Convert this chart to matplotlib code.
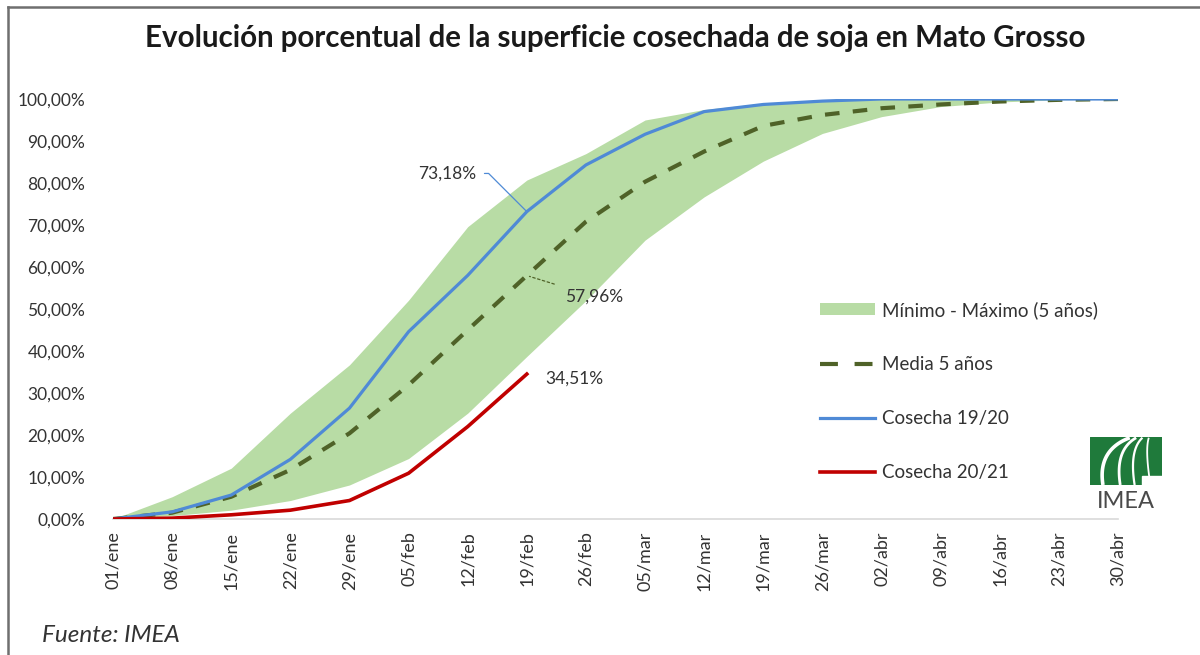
import matplotlib
matplotlib.use("Agg")
import matplotlib.pyplot as plt
from matplotlib.lines import Line2D
from matplotlib.patches import Patch, Rectangle
from matplotlib.ticker import FuncFormatter, MultipleLocator
import numpy as np

plt.rcParams['font.family'] = ['Lato', 'DejaVu Sans']

# semanas de cosecha
fechas = ["01/ene", "08/ene", "15/ene", "22/ene", "29/ene", "05/feb", "12/feb", "19/feb",
          "26/feb", "05/mar", "12/mar", "19/mar", "26/mar", "02/abr", "09/abr", "16/abr",
          "23/abr", "30/abr"]

# % superficie cosechada
maximo_5a = [0, 5.3, 12.1, 25.2, 36.7, 52.1, 69.6, 80.7, 87.0, 95.0, 97.5, 99.0, 99.8,
             100, 100, 100, 100, 100]
minimo_5a = [0, 0.8, 2.1, 4.4, 8.1, 14.4, 25.2, 38.7, 52.0, 66.4, 76.7, 85.2, 91.8,
             95.8, 98.2, 99.3, 99.8, 100]
media_5a = [0, 1.5, 5.3, 11.7, 20.4, 31.9, 45.0, 57.96, 70.8, 80.3, 87.5, 93.6, 96.2,
            97.8, 98.7, 99.4, 99.8, 100]
cosecha_1920 = [0, 1.7, 5.7, 14.2, 26.4, 44.6, 58.0, 73.18, 84.3, 91.6, 97.0, 98.7, 99.5,
                100, 100, 100, 100, 100]
cosecha_2021 = [0, 0.2, 1.0, 2.1, 4.4, 10.9, 22.0, 34.51]

verde_claro = "#B8DCA5"
oliva = "#4F6228"
azul = "#4F8AD6"
rojo = "#C00000"
gris_txt = "#333333"

W, H = 1200, 655
fig = plt.figure(figsize=(W / 100, H / 100), dpi=100)
ax = fig.add_axes([113 / W, (H - 519) / H, (1118 - 113) / W, (519 - 99) / H])

x = np.arange(len(fechas))
x21 = np.arange(len(cosecha_2021))

ax.fill_between(x, np.array(minimo_5a) / 100, np.array(maximo_5a) / 100,
                color=verde_claro, linewidth=0, zorder=1)
ax.plot(x, np.array(media_5a) / 100, color=oliva, lw=3, dashes=(3.5, 3.2), zorder=3)
ax.plot(x, np.array(cosecha_1920) / 100, color=azul, lw=2.3, zorder=4)
ax.plot(x21, np.array(cosecha_2021) / 100, color=rojo, lw=2.6, zorder=5)

ax.set_xlim(0, len(fechas) - 1)
ax.set_ylim(0, 1.0)
ax.yaxis.set_major_locator(MultipleLocator(0.1))
ax.yaxis.set_major_formatter(FuncFormatter(lambda v, p: f"{v * 100:.2f}%".replace(".", ",")))
ax.set_xticks(x)
ax.set_xticklabels(fechas, rotation=90, fontsize=13, color=gris_txt)
ax.tick_params(axis='y', labelsize=12.5, labelcolor=gris_txt, length=0, pad=20)
ax.tick_params(axis='x', length=0, pad=9)
for s in ['top', 'right', 'left']:
    ax.spines[s].set_visible(False)
ax.spines['bottom'].set_color("#D9D9D9")
ax.spines['bottom'].set_linewidth(1.2)

# etiquetas de datos
i = 7
ax.annotate(f"{cosecha_1920[i]:.2f}%".replace(".", ","), xy=(i, cosecha_1920[i] / 100),
            xytext=(-36.5, 27.5), textcoords='offset points', ha='right', va='center',
            fontsize=12.5, color=gris_txt,
            arrowprops=dict(arrowstyle='-', color=azul, lw=0.9, shrinkA=4, shrinkB=0,
                            connectionstyle='angle,angleA=0,angleB=-45,rad=0'))
ax.annotate(f"{media_5a[i]:.2f}%".replace(".", ","), xy=(i, media_5a[i] / 100),
            xytext=(27.5, -15), textcoords='offset points', ha='left', va='center',
            fontsize=12.5, color=gris_txt,
            arrowprops=dict(arrowstyle='-', color=oliva, lw=0.9, ls=(0, (2, 2)),
                            shrinkA=6, shrinkB=2))
ax.annotate(f"{cosecha_2021[-1]:.2f}%".replace(".", ","), xy=(x21[-1], cosecha_2021[-1] / 100),
            xytext=(13, -3), textcoords='offset points', ha='left', va='center',
            fontsize=12.5, color=gris_txt)

# leyenda
handles = [Patch(facecolor=verde_claro, edgecolor='none'),
           Line2D([], [], color=oliva, lw=3, dashes=(4.3, 4.0)),
           Line2D([], [], color=azul, lw=2.3),
           Line2D([], [], color=rojo, lw=2.6)]
labels = ["Mínimo - Máximo (5 años)", "Media 5 años", "Cosecha 19/20", "Cosecha 20/21"]
leg = fig.legend(handles, labels, loc='upper left', bbox_to_anchor=(803 / W, 1 - 284 / H),
                 frameon=False, fontsize=13.5, handlelength=2.95, handletextpad=0.35,
                 labelspacing=1.98, handleheight=0.6)
for t in leg.get_texts():
    t.set_color(gris_txt)

# titulo y fuente
titulo = fig.text(615 / W, 1 - 38 / H,
                  "Evolución porcentual de la superficie cosechada de soja en Mato Grosso",
                  ha='center', va='center', fontsize=20, fontweight='bold', color='#1a1a1a')
r = fig.canvas.get_renderer()
ancho = titulo.get_window_extent(renderer=r).width
titulo.set_fontsize(20 * 945 / ancho)

fig.text(42 / W, 1 - 636 / H, "Fuente: IMEA", ha='left', va='center', fontsize=17.5,
         style='italic', color=gris_txt)

# marco
fig.add_artist(Line2D([8 / W, 8 / W], [0, 1 - 7 / H], color='#6f6f6f', lw=1.8))
fig.add_artist(Line2D([8 / W, 1], [1 - 7 / H, 1 - 7 / H], color='#6f6f6f', lw=1.8))

# logo IMEA
lg = fig.add_axes([1090 / W, 1 - 485 / H, 72 / W, 48 / H])
lg.set_xlim(0, 1)
lg.set_ylim(0, 1)
lg.axis('off')
lg.add_patch(Rectangle((0, 0), 1, 1, color='#1F7A3B'))
t = np.linspace(0, 0.97, 60)
for xb, xt, w in [(0.18, 0.58, 2.6), (0.42, 0.66, 2.0), (0.62, 0.74, 1.6), (0.84, 0.82, 1.3)]:
    p0, p1, p2 = np.array([xb, 0.0]), np.array([xb - 0.08, 0.75]), np.array([xt, 1.0])
    c = ((1 - t) ** 2)[:, None] * p0 + (2 * (1 - t) * t)[:, None] * p1 + (t ** 2)[:, None] * p2
    lg.plot(c[:, 0], c[:, 1], color='white', lw=w, solid_capstyle='butt')
lg.add_patch(Rectangle((0.72, 0), 0.28, 0.18, color='white'))
fig.text(1126 / W, 1 - 501 / H, "IMEA", ha='center', va='center', fontsize=17,
         color='#4a4a4a')

fig.savefig("out.png", dpi=100)
